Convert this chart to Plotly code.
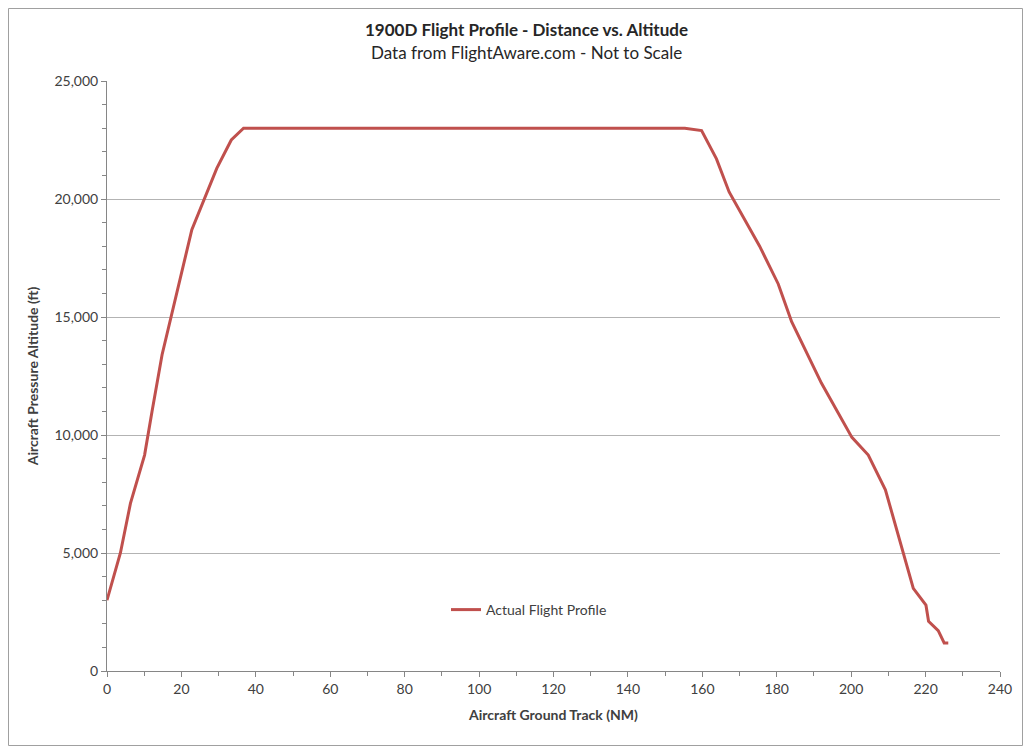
import plotly.graph_objects as go

distance_nm = [0, 3.6, 6.3, 10.1, 12.1, 14.8, 22.8, 26.4, 29.5, 33.4, 36.7,
               155.3, 159.8, 163.8, 167.2, 175.4, 180.4, 184.0, 192.0, 200.2,
               204.6, 209.2, 216.7, 220.1, 220.8, 223.4, 225.0, 226.1]
altitude_ft = [3000, 5000, 7100, 9150, 11000, 13400, 18700, 20100, 21300, 22500, 23000,
               23000, 22900, 21700, 20300, 18000, 16400, 14800, 12200, 9900,
               9150, 7680, 3500, 2790, 2110, 1710, 1190, 1190]
series_name = "Actual Flight Profile"
title_main = "1900D Flight Profile - Distance vs. Altitude"
title_sub = "Data from FlightAware.com - Not to Scale"
x_title = "Aircraft Ground Track (NM)"
y_title = "Aircraft Pressure Altitude (ft)"

# page has an 8px body margin
OFF = 8
W, H = 1031 - 2 * OFF, 754 - 2 * OFF
L, T = 107 - OFF, 81 - OFF
R = W - (1000 - OFF)
B = H - (671 - OFF)
pw = W - L - R
ph = H - T - B

def px_x(sx):
    return (sx - OFF - L) / pw

def px_y(sy):
    return (H - B - (sy - OFF)) / ph

FONT = "Lato, 'Open Sans', sans-serif"
AX = "#868686"

fig = go.Figure()
fig.add_trace(go.Scatter(x=distance_nm, y=altitude_ft, mode="lines", name=series_name,
                         line=dict(color="#C0504D", width=3)))

fig.update_layout(
    width=W, height=H,
    margin=dict(l=L, r=R, t=T, b=B),
    paper_bgcolor="white", plot_bgcolor="white",
    font=dict(family=FONT, size=14, color="#404040"),
    showlegend=True,
    legend=dict(x=px_x(446), y=px_y(610), xanchor="left", yanchor="middle",
                bgcolor="rgba(0,0,0,0)", font=dict(size=14, color="#404040")),
    xaxis=dict(range=[0, 240], dtick=20, tick0=0, showgrid=False, zeroline=False,
               showline=True, linecolor=AX, linewidth=1,
               ticks="outside", ticklen=5, tickcolor=AX,
               minor=dict(dtick=10, ticks="outside", ticklen=4, tickcolor=AX, showgrid=False),
               title=dict(text="<b>" + x_title + "</b>", font=dict(size=14, color="#404040"), standoff=14)),
    yaxis=dict(range=[0, 25000], dtick=5000, tick0=0, tickformat=",d",
               showgrid=True, gridcolor="#B3B3B3", gridwidth=1, zeroline=False,
               showline=True, linecolor=AX, linewidth=1,
               ticks="outside", ticklen=5, tickcolor=AX,
               minor=dict(dtick=1000, ticks="outside", ticklen=4, tickcolor=AX, showgrid=False),
               title=dict(text="<b>" + y_title + "</b>", font=dict(size=14, color="#404040"), standoff=12)),
)

fig.add_annotation(text="<b>" + title_main + "</b>", xref="paper", yref="paper",
                   x=px_x(526), y=px_y(29), showarrow=False,
                   font=dict(size=17, color="#262626"), xanchor="center", yanchor="middle")
fig.add_annotation(text=title_sub, xref="paper", yref="paper",
                   x=px_x(526), y=px_y(52), showarrow=False,
                   font=dict(size=17, color="#262626"), xanchor="center", yanchor="middle")

fig.add_shape(type="rect", xref="paper", yref="paper",
              x0=(0.5 - L) / pw, x1=(W - 0.5 - L) / pw,
              y0=(H - B - (H - 0.5)) / ph, y1=(H - B - 0.5) / ph,
              line=dict(color="#A0A0A0", width=1), fillcolor="rgba(0,0,0,0)", layer="below")

fig.write_html("out.html")
